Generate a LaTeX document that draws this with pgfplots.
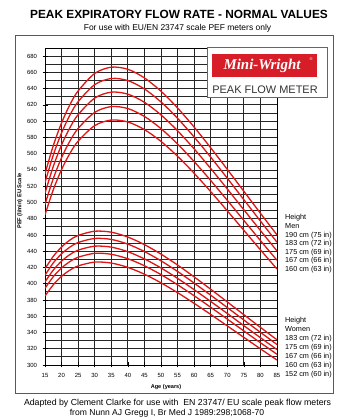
\documentclass[border=0pt]{standalone}
\usepackage{pgfplots}
\pgfplotsset{compat=1.18}
\usepackage{fontspec}
\setmainfont{Liberation Sans}
\newfontfamily\logofont{Liberation Serif}
\definecolor{curvered}{RGB}{225,20,20}
\definecolor{logored}{RGB}{215,30,40}
\begin{document}
\begin{tikzpicture}
\path[use as bounding box] (0,0) rectangle (340bp,419bp);
\fill[white] (0,0) rectangle (340bp,419bp);
\draw[black!65, line width=0.8bp] (15bp,26bp) rectangle (333bp,384bp);
\begin{axis}[at={(45bp,54bp)}, anchor=south west, scale only axis,
  width=232bp, height=317bp,
  xmin=15, xmax=85, ymin=300, ymax=690,
  xtick={15,20,...,85}, ytick={300,320,...,680}, minor ytick={310,330,...,690},
  xtick pos=bottom, ytick pos=left,
  grid=both,
  major grid style={black!85, line width=0.8bp},
  minor grid style={black!85, line width=0.8bp},
  axis line style={black, line width=0.8bp},
  tick align=center, major tick length=5bp, minor tick length=0bp,
  tick style={black, line width=0.6bp},
  ticklabel style={font=\fontsize{6}{7}\selectfont},
  /pgf/number format/assume math mode=true,
  xticklabel style={yshift=-2bp}, yticklabel style={xshift=-2bp},
]
% Men
\addplot[curvered, line width=1.3bp, smooth] coordinates {(15,535.2)(17.5,569.9)(20,597.9)(22.5,620.1)(25,637.2)(30,658.7)(35,666.4)(40,663.8)(45,653.2)(50,636.8)(55,616.2)(60,592.7)(65,567.2)(70,540.7)(75,513.7)(80,486.7)(85,460.1)};
\addplot[curvered, line width=1.3bp, smooth] coordinates {(15,524.4)(17.5,558.3)(20,585.6)(22.5,607.3)(25,624.0)(30,644.9)(35,652.5)(40,649.9)(45,639.6)(50,623.6)(55,603.5)(60,580.5)(65,555.7)(70,529.8)(75,503.4)(80,477.1)(85,451.1)};
\addplot[curvered, line width=1.3bp, smooth] coordinates {(15,511.4)(17.5,544.3)(20,570.8)(22.5,591.8)(25,608.0)(30,628.4)(35,635.7)(40,633.2)(45,623.2)(50,607.7)(55,588.2)(60,565.9)(65,541.8)(70,516.6)(75,491.0)(80,465.5)(85,440.3)};
\addplot[curvered, line width=1.3bp, smooth] coordinates {(15,497.6)(17.5,529.4)(20,555.1)(22.5,575.4)(25,591.1)(30,610.8)(35,617.9)(40,615.5)(45,605.8)(50,590.8)(55,571.9)(60,550.3)(65,527.0)(70,502.6)(75,477.9)(80,453.1)(85,428.8)};
\addplot[curvered, line width=1.3bp, smooth] coordinates {(15,484.8)(17.5,515.6)(20,540.5)(22.5,560.2)(25,575.4)(30,594.5)(35,601.4)(40,599.0)(45,589.6)(50,575.1)(55,556.8)(60,535.9)(65,513.3)(70,489.7)(75,465.7)(80,441.7)(85,418.1)};
% Women
\addplot[curvered, line width=1.3bp, smooth] coordinates {(15,418.4)(17.5,433.7)(20,445.2)(22.5,453.7)(25,459.4)(30,464.6)(35,463.4)(40,457.4)(45,448.1)(50,436.4)(55,423.0)(60,408.4)(65,393.2)(70,377.6)(75,361.9)(80,346.3)(85,331.0)};
\addplot[curvered, line width=1.3bp, smooth] coordinates {(15,410.5)(17.5,425.6)(20,436.8)(22.5,445.0)(25,450.7)(30,455.7)(35,454.5)(40,448.7)(45,439.6)(50,428.2)(55,415.1)(60,400.8)(65,385.9)(70,370.7)(75,355.4)(80,340.2)(85,325.2)};
\addplot[curvered, line width=1.3bp, smooth] coordinates {(15,402.2)(17.5,416.8)(20,427.8)(22.5,435.8)(25,441.3)(30,446.2)(35,445.0)(40,439.4)(45,430.5)(50,419.4)(55,406.6)(60,392.7)(65,378.2)(70,363.4)(75,348.4)(80,333.6)(85,319.0)};
\addplot[curvered, line width=1.3bp, smooth] coordinates {(15,394.4)(17.5,408.7)(20,419.4)(22.5,427.2)(25,432.6)(30,437.4)(35,436.2)(40,430.7)(45,422.1)(50,411.2)(55,398.7)(60,385.2)(65,371.0)(70,356.5)(75,341.9)(80,327.4)(85,313.2)};
\addplot[curvered, line width=1.3bp, smooth] coordinates {(15,384.9)(17.5,398.7)(20,409.1)(22.5,416.7)(25,421.9)(30,426.6)(35,425.4)(40,420.1)(45,411.7)(50,401.1)(55,389.0)(60,375.9)(65,362.2)(70,348.1)(75,334.0)(80,319.9)(85,306.1)};
\end{axis}
% logo
\draw[fill=white, draw=black!60, line width=0.7bp] (207bp,372bp) rectangle (327bp,322bp);
\fill[logored] (212bp,365bp) rectangle (317bp,342bp);
\node[white, inner sep=0, font=\logofont\bfseries\itshape\fontsize{15}{15}\selectfont] at (262bp,353bp) {Mini-Wright};
\node[white, inner sep=0, font=\fontsize{4}{4}\selectfont] at (311bp,360bp) {\textregistered};
\node[black!80, inner sep=0, font=\fontsize{11}{11}\selectfont] at (265bp,329bp) {PEAK FLOW METER};
% titles
\node[anchor=base, inner sep=0, font=\bfseries\fontsize{11.9}{12}\selectfont] at (179bp,400bp) {PEAK EXPIRATORY FLOW RATE - NORMAL VALUES};
\node[anchor=base, inner sep=0, font=\fontsize{8.5}{9}\selectfont] at (177.5bp,388bp) {For use with EU/EN 23747 scale PEF meters only};
\node[anchor=base, inner sep=0, font=\fontsize{8.8}{9}\selectfont] at (177.5bp,14bp) {Adapted by Clement Clarke for use with\ \ EN 23747/ EU scale peak flow meters};
\node[anchor=base, inner sep=0, font=\fontsize{8.6}{9}\selectfont] at (167bp,4bp) {from Nunn AJ Gregg I, Br Med J 1989:298;1068-70};
% axis labels
\node[inner sep=0, font=\bfseries\fontsize{5.6}{6}\selectfont] at (166bp,32bp) {Age (years)};
\node[inner sep=0, rotate=90, font=\bfseries\fontsize{5.7}{6}\selectfont] at (20bp,218bp) {PEF (l/min) EU Scale};
% legend texts
\begin{scope}[every node/.style={anchor=west, inner sep=0, font=\fontsize{7.3}{8}\selectfont}]
\node at (285bp,201bp) {Height};
\node at (285bp,192.5bp) {Men};
\node at (285bp,183.5bp) {190 cm (75 in)};
\node at (285bp,175bp) {183 cm (72 in)};
\node at (285bp,166.5bp) {175 cm (69 in)};
\node at (285bp,158bp) {167 cm (66 in)};
\node at (285bp,149.5bp) {160 cm (63 in)};
\node at (285bp,98.5bp) {Height};
\node at (285bp,89.5bp) {Women};
\node at (285bp,80bp) {183 cm (72 in)};
\node at (285bp,71bp) {175 cm (69 in)};
\node at (285bp,62bp) {167 cm (66 in)};
\node at (285bp,53bp) {160 cm (63 in)};
\node at (285bp,44bp) {152 cm (60 in)};
\end{scope}
\end{tikzpicture}
\end{document}
